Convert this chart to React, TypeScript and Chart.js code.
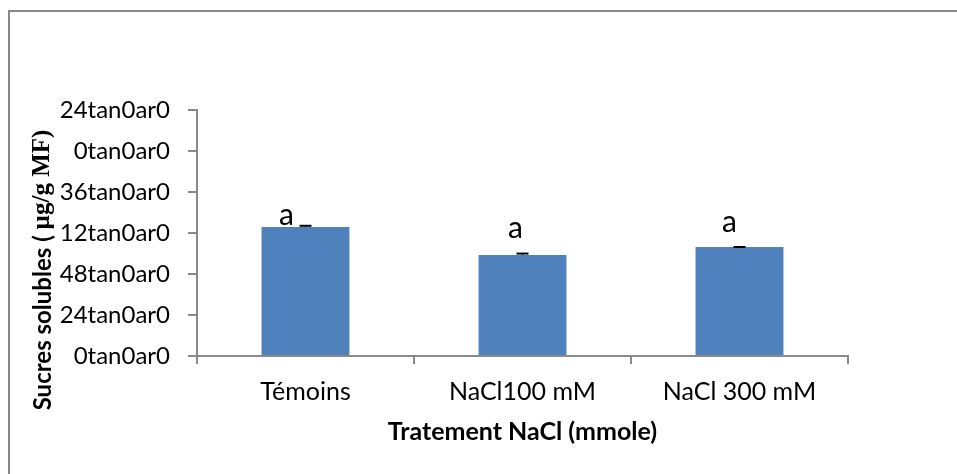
import React, { useEffect, useRef } from "react";
import { Chart, registerables } from "chart.js";

Chart.register(...registerables);

// ---- data ----
const categories = ["Témoins", "NaCl100 mM", "NaCl 300 mM"];
const values = [3.146, 2.463, 2.659];
const errors = [0.03, 0.035, 0.0];
const letters = ["a", "a", "a"];
const yTickLabels = [
  "0tan0ar0",
  "24tan0ar0",
  "48tan0ar0",
  "12tan0ar0",
  "36tan0ar0",
  "0tan0ar0",
  "24tan0ar0",
];
const yTitleMain = "Sucres solubles ( ";
const yTitleUnit = "µg/g MF)";
const xTitle = "Tratement NaCl (mmole)";

// ---- styles ----
const GRAY = "#898989";
const BAR = "#4F81BD";
const FONT = "Lato";
const letterOffsets = [
  { dx: -19, dy: -2 },
  { dx: -7, dy: -17 },
  { dx: -10, dy: -15 },
];

const framePlugin = {
  id: "frame",
  beforeDraw(chart: any) {
    const ctx = chart.ctx;
    ctx.save();
    ctx.fillStyle = "#ffffff";
    ctx.fillRect(0, 0, chart.width, chart.height);
    ctx.fillStyle = GRAY;
    ctx.fillRect(8, 10, 2, chart.height);
    ctx.fillRect(8, 10, chart.width, 2);
    ctx.restore();
  },
};

const annotPlugin = {
  id: "annot",
  afterDatasetsDraw(chart: any) {
    const ctx = chart.ctx;
    const meta = chart.getDatasetMeta(0);
    const yScale = chart.scales.y;
    ctx.save();
    meta.data.forEach((el: any, i: number) => {
      const x = el.x;
      const top = el.y;
      const capY = yScale.getPixelForValue(values[i] + errors[i]);
      ctx.strokeStyle = "#000";
      ctx.lineWidth = 2;
      ctx.beginPath();
      ctx.moveTo(x - 6, capY);
      ctx.lineTo(x + 6, capY);
      ctx.stroke();
      ctx.lineWidth = 1;
      ctx.beginPath();
      ctx.moveTo(x, top);
      ctx.lineTo(x, capY);
      ctx.stroke();
      const off = letterOffsets[i];
      ctx.fillStyle = "#000";
      ctx.font = `normal 30px ${FONT}`;
      ctx.textAlign = "center";
      ctx.textBaseline = "alphabetic";
      ctx.fillText(letters[i], x + off.dx, top + off.dy);
    });
    ctx.restore();
  },
};

const yTitlePlugin = {
  id: "ytitle",
  afterDraw(chart: any) {
    const ctx = chart.ctx;
    ctx.save();
    ctx.translate(43, 270);
    ctx.rotate(-Math.PI / 2);
    const f1 = `bold 24px ${FONT}`;
    const f2 = `bold 25px "Liberation Serif"`;
    ctx.font = f1;
    const w1 = ctx.measureText(yTitleMain).width;
    ctx.font = f2;
    const w2 = ctx.measureText(yTitleUnit).width;
    const start = -(w1 + w2) / 2;
    ctx.fillStyle = "#000";
    ctx.textAlign = "left";
    ctx.textBaseline = "middle";
    ctx.font = f1;
    ctx.fillText(yTitleMain, start, 0);
    ctx.font = f2;
    ctx.fillText(yTitleUnit, start + w1, 0);
    ctx.restore();
  },
};

export default function App() {
  const ref = useRef<HTMLCanvasElement | null>(null);
  useEffect(() => {
    if (!ref.current) return;
    Chart.defaults.font.family = FONT;
    Chart.defaults.color = "#000";
    const chart = new Chart(ref.current, {
      type: "bar",
      data: {
        labels: categories,
        datasets: [
          {
            data: values,
            backgroundColor: BAR,
            borderWidth: 0,
            categoryPercentage: 1,
            barPercentage: 0.405,
          },
        ],
      },
      options: {
        animation: false,
        responsive: false,
        devicePixelRatio: 1,
        layout: { padding: { left: 0, right: 109, top: 110, bottom: 0 } },
        plugins: {
          legend: { display: false },
          tooltip: { enabled: false },
        },
        scales: {
          x: {
            grid: {
              display: true,
              drawOnChartArea: false,
              drawTicks: true,
              tickLength: 8,
              color: GRAY,
              lineWidth: 2,
            },
            border: { display: true, color: GRAY, width: 2 },
            ticks: {
              font: { size: 25, family: FONT },
              color: "#000",
              padding: 13,
              maxRotation: 0,
            },
            title: {
              display: true,
              text: xTitle,
              font: { size: 25, weight: "bold", family: FONT },
              color: "#000",
              padding: { top: 0, bottom: 27 },
            },
            afterFit(scale: any) {
              scale.height = 118;
            },
          },
          y: {
            min: 0,
            max: 6,
            grid: {
              display: true,
              drawOnChartArea: false,
              drawTicks: true,
              tickLength: 9,
              color: GRAY,
              lineWidth: 2,
            },
            border: { display: true, color: GRAY, width: 2 },
            ticks: {
              stepSize: 1,
              font: { size: 24, family: FONT },
              color: "#000",
              padding: 18,
              callback: (v: any) => yTickLabels[Math.round(Number(v))] ?? "",
            },
            afterFit(scale: any) {
              scale.width = 197;
            },
          },
        },
      },
      plugins: [framePlugin, annotPlugin, yTitlePlugin],
    });
    return () => chart.destroy();
  }, []);
  return (
    <div style={{ position: "fixed", left: 0, top: 0, width: 957, height: 474, background: "#fff" }}>
      <canvas ref={ref} width={957} height={474} style={{ display: "block", width: 957, height: 474 }} />
    </div>
  );
}
